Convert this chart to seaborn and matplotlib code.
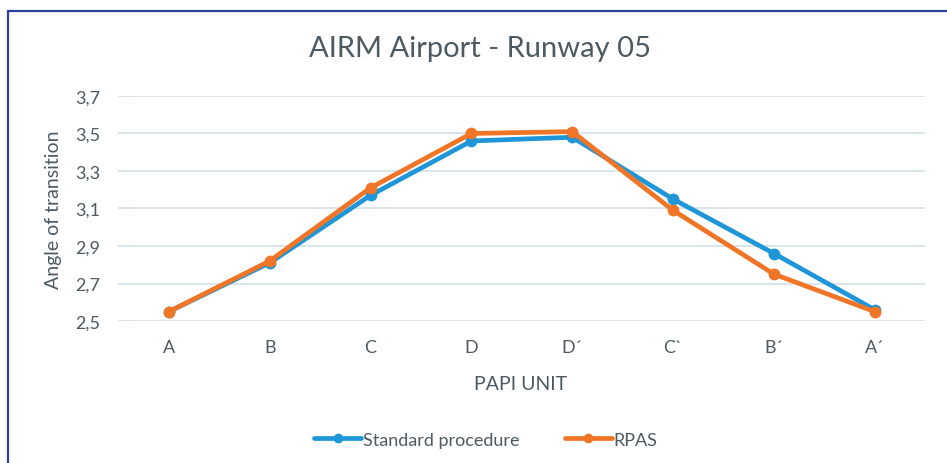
import matplotlib
matplotlib.use("Agg")
import matplotlib.pyplot as plt
import seaborn as sns
import pandas as pd
from matplotlib.lines import Line2D

categories = ["A", "B", "C", "D", "D\u00b4", "C`", "B\u00b4", "A\u00b4"]
standard = [2.55, 2.81, 3.17, 3.46, 3.48, 3.15, 2.86, 2.56]
rpas = [2.55, 2.82, 3.21, 3.50, 3.51, 3.09, 2.75, 2.55]
yticks = [2.5, 2.7, 2.9, 3.1, 3.3, 3.5, 3.7]
ytick_labels = ["2,5", "2,7", "2,9", "3,1", "3,3", "3,5", "3,7"]

sns.set_theme(style="white")
plt.rcParams["font.family"] = ["Lato", "DejaVu Sans"]

df = pd.DataFrame({
    "x": list(range(len(categories))) * 2,
    "value": standard + rpas,
    "series": ["Standard procedure"] * len(categories) + ["RPAS"] * len(categories),
})

txt = "#4d5a61"
fig = plt.figure(figsize=(9.47, 4.64), dpi=100)
ax = fig.add_axes([0.125, 0.306, 0.852, 0.485])

palette = {"Standard procedure": "#1e96d8", "RPAS": "#f07526"}
sns.lineplot(data=df, x="x", y="value", hue="series", palette=palette,
             marker="o", markersize=8.5, linewidth=3.4, markeredgewidth=0,
             ax=ax, legend=False)

ax.set_xlim(-0.5, len(categories) - 0.5)
ax.set_ylim(2.5, 3.7)
ax.set_xticks(range(len(categories)))
ax.set_xticklabels(categories, color=txt, fontsize=13)
ax.set_yticks(yticks)
ax.set_yticklabels(ytick_labels, color=txt, fontsize=13)
ax.tick_params(axis="x", length=0, pad=13)
ax.tick_params(axis="y", length=0, pad=13)
ax.grid(axis="y", color="#cfdde6", linewidth=1.1)
for s in ax.spines.values():
    s.set_visible(False)
ax.set_axisbelow(True)

ax.set_xlabel("PAPI UNIT", color=txt, fontsize=14)
ax.set_ylabel("Angle of transition", color=txt, fontsize=14)
ax.xaxis.set_label_coords(0.498, -0.24)
ax.yaxis.set_label_coords(-0.07, 0.5)
fig.text(0.507, 0.895, "AIRM Airport - Runway 05", ha="center", va="center",
         color=txt, fontsize=21)

handles = [Line2D([], [], color=palette[k], linewidth=3.4, marker="o", markersize=6)
           for k in ["Standard procedure", "RPAS"]]
leg = fig.legend(handles, ["Standard procedure", "RPAS"], loc="center",
                 bbox_to_anchor=(0.513, 0.05), ncol=2, frameon=False,
                 fontsize=13, handlelength=2.6, columnspacing=2.5, handletextpad=0.1)
for t in leg.get_texts():
    t.set_color(txt)

fig.add_artist(Line2D([0.0085, 0.0085], [0.0, 0.974], color="#2b3f9c", linewidth=1.6,
                      transform=fig.transFigure))
fig.add_artist(Line2D([0.0085, 1.0], [0.974, 0.974], color="#2b3f9c", linewidth=1.6,
                      transform=fig.transFigure))

fig.savefig("out.png", dpi=100)
